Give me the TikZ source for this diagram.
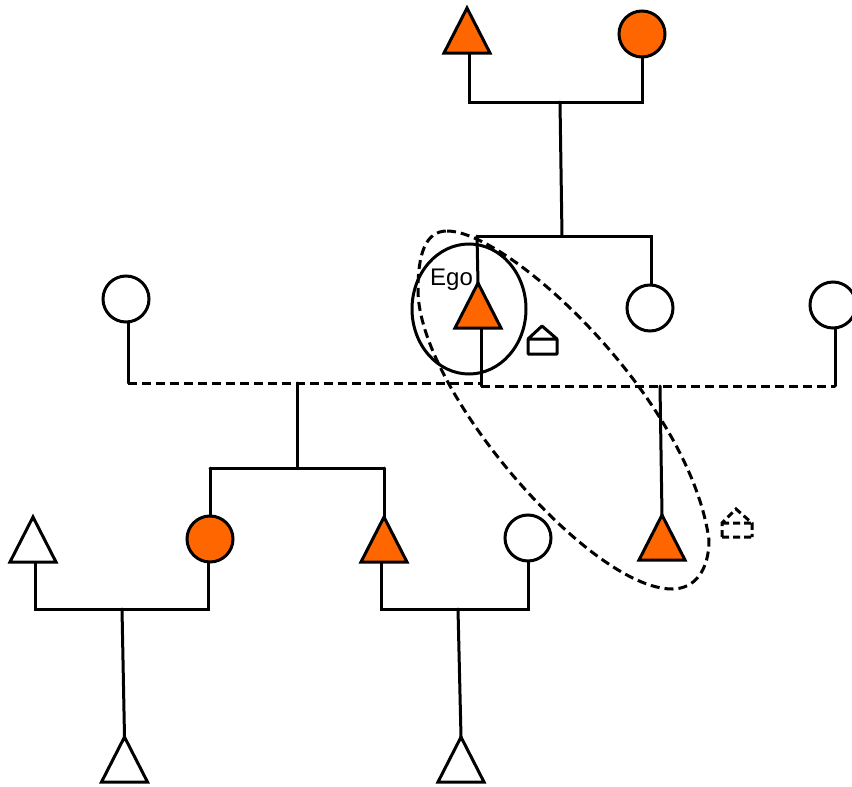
\documentclass[tikz,border=0pt]{standalone}
\usepackage{fontspec}
\setmainfont{Liberation Sans}
\usetikzlibrary{shapes.geometric}
\definecolor{kinorange}{HTML}{FF6600}
\tikzset{
  ln/.style={line width=3pt,line cap=round,line join=miter},
  dln/.style={line width=3pt,dash pattern=on 9pt off 5pt},
  tri/.style={shape=isosceles triangle,shape border rotate=90,isosceles triangle stretches,
    minimum width=46pt,minimum height=45pt,inner sep=0pt,outer sep=0pt,anchor=apex,draw,line width=3pt,line join=miter},
  circ/.style={shape=circle,minimum size=46pt,inner sep=0pt,outer sep=0pt,draw,line width=3pt},
  on/.style={fill=kinorange},
  off/.style={fill=white},
}
\begin{document}
\begin{tikzpicture}[x=1pt,y=-1pt]
\useasboundingbox (0,0) rectangle (852,787);
% junctions
\coordinate (gfL) at (469,102); \coordinate (gfR) at (642,102); \coordinate (gfM) at (560,102);
\coordinate (sibL) at (477,236); \coordinate (sibR) at (651,236); \coordinate (sibM) at (562,236);
\coordinate (dashA0) at (128,383); \coordinate (dashA1) at (481,383); \coordinate (dashAM) at (297,383);
\coordinate (dashB0) at (481,386); \coordinate (dashB1) at (835,386); \coordinate (dashBM) at (660,386);
\coordinate (chL) at (210,468); \coordinate (chR) at (384,468); \coordinate (chM) at (297,468);
\coordinate (l1L) at (35,609); \coordinate (l1R) at (208,609); \coordinate (l1M) at (122,609);
\coordinate (l2L) at (381,609); \coordinate (l2R) at (528,609); \coordinate (l2M) at (458,609);
% connector endpoints on shape bases
\coordinate (gfB) at (469,52); \coordinate (gmB) at (642,57);
\coordinate (egoB) at (481,327); \coordinate (sisB) at (651,286);
\coordinate (w1B) at (128,322); \coordinate (w2B) at (835,328);
\coordinate (t1B) at (35,562); \coordinate (c1B) at (208,562);
\coordinate (t2B) at (381,562); \coordinate (c2B) at (528,562);
% connectors
\draw[ln] (gfB) -- (gfL) -- (gfR) -- (gmB);
\draw[ln] (gfM) -- (sibM);
\draw[ln] (sibL) -- (sibR) -- (sisB);
\draw[dln] (dashA0) -- (dashA1);
\draw[dln] (dashB0) -- (dashB1);
\draw[ln] (w1B) -- (dashA0);
\draw[ln] (w2B) -- (dashB1);
\draw[ln] (egoB) -- (dashB0);
\draw[ln] (dashAM) -- (chM);
\draw[ln] (chL) -- (chR);
\draw[ln] (t1B) -- (l1L) -- (l1R) -- (c1B);
\draw[ln] (t2B) -- (l2L) -- (l2R) -- (c2B);
% shapes
\node[tri,on] (gf) at (467,8) {};
\node[circ,on] (gm) at (642,34) {};
\node[tri,on] (ego) at (478,283) {};
\node[circ,off] (sis) at (650,308) {};
\node[circ,off] (w1) at (126,299) {};
\node[circ,off] (w2) at (833,305) {};
\node[circ,on] (d1) at (210,539) {};
\node[tri,on] (s1) at (384,517) {};
\node[circ,off] (w3) at (528,538) {};
\node[tri,on] (s2) at (662,515) {};
\node[tri,off] (h1) at (33,517) {};
\node[tri,off] (k1) at (124.5,737) {};
\node[tri,off] (k2) at (461,737) {};
% connectors to shapes
\draw[ln] (sibL) -- (ego.apex);
\draw[ln] (dashBM) -- (s2.apex);
\draw[ln] (chL) -- (d1.north);
\draw[ln] (chR) -- (s1.apex);
\draw[ln] (l1M) -- (k1.apex);
\draw[ln] (l2M) -- (k2.apex);
% ellipses
\node[draw,ellipse,line width=3pt,minimum width=114pt,minimum height=130pt,inner sep=0pt] (egoring) at (469,309) {};
\node[font=\fontsize{24pt}{26pt}\selectfont,inner sep=0pt] (egolabel) at (451.5,280) {Ego};
\draw[line width=3pt,dash pattern=on 9pt off 5pt]
  (447,231) .. controls (510,231) and (690,400) .. (709,540)
  .. controls (709,570) and (695,589) .. (672,589)
  .. controls (590,589) and (418,390) .. (418,290)
  .. controls (418,255) and (425,231) .. (447,231) -- cycle;
% houses
\draw[line width=3pt,line join=round] (528,339) -- (542,326) -- (557,339) (528,339) rectangle (557,354);
\draw[line width=3pt,dash pattern=on 7pt off 4pt] (722,537) -- (752,537) (722,537) -- (722,523) -- (736,509) -- (752,523) -- (752,537) (722,523) -- (752,523);
\end{tikzpicture}
\end{document}
